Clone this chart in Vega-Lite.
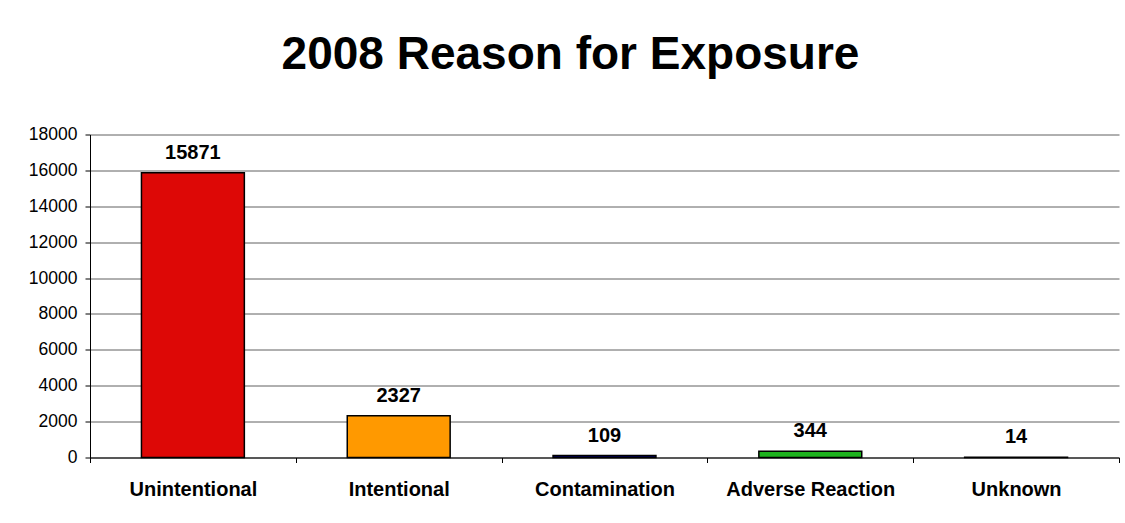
{
  "$schema": "https://vega.github.io/schema/vega-lite/v6.json",
  "width": 1029,
  "height": 323,
  "autosize": {"type": "none"},
  "padding": {"left": 90, "top": 134.5, "right": 6, "bottom": 65.5},
  "background": "white",
  "title": {
    "text": "2008 Reason for Exposure",
    "font": "Liberation Sans",
    "fontSize": 46,
    "fontWeight": "bold",
    "color": "black",
    "anchor": "middle",
    "dx": -34,
    "baseline": "alphabetic",
    "offset": 11
  },
  "config": {
    "view": {"stroke": null},
    "axis": {"labelFont": "Liberation Sans", "labelColor": "black"}
  },
  "data": {
    "values": [
      {"reason": "Unintentional", "count": 15871},
      {"reason": "Intentional", "count": 2327},
      {"reason": "Contamination", "count": 109},
      {"reason": "Adverse Reaction", "count": 344},
      {"reason": "Unknown", "count": 14}
    ]
  },
  "encoding": {
    "x": {
      "field": "reason",
      "type": "nominal",
      "sort": null,
      "scale": {"paddingInner": 0, "paddingOuter": 0},
      "axis": {
        "title": null,
        "labelAngle": 0,
        "labelFontSize": 20,
        "labelFontWeight": "bold",
        "labelPadding": 17,
        "tickBand": "extent",
        "tickSize": 5,
        "tickColor": "black",
        "domainColor": "black",
        "grid": false
      }
    },
    "y": {
      "field": "count",
      "type": "quantitative",
      "scale": {"domain": [0, 18000]},
      "axis": {
        "title": null,
        "values": [0, 2000, 4000, 6000, 8000, 10000, 12000, 14000, 16000, 18000],
        "format": "d",
        "labelFontSize": 17.5,
        "labelPadding": 8,
        "tickSize": 5,
        "tickColor": "black",
        "domainColor": "black",
        "grid": true,
        "gridColor": "#606060",
        "gridOpacity": 1
      }
    }
  },
  "layer": [
    {
      "mark": {"type": "bar", "stroke": "black", "strokeWidth": 1.5, "width": {"band": 0.5}},
      "encoding": {
        "color": {
          "field": "reason",
          "type": "nominal",
          "legend": null,
          "scale": {
            "domain": ["Unintentional", "Intentional", "Contamination", "Adverse Reaction", "Unknown"],
            "range": ["#DD0806", "#FF9900", "#000080", "#1FB41F", "#3366CC"]
          }
        }
      }
    },
    {
      "mark": {
        "type": "text",
        "font": "Liberation Sans",
        "fontSize": 20,
        "fontWeight": "bold",
        "baseline": "alphabetic",
        "dy": -14,
        "color": "black"
      },
      "encoding": {"text": {"field": "count", "type": "quantitative", "format": "d"}}
    }
  ]
}
